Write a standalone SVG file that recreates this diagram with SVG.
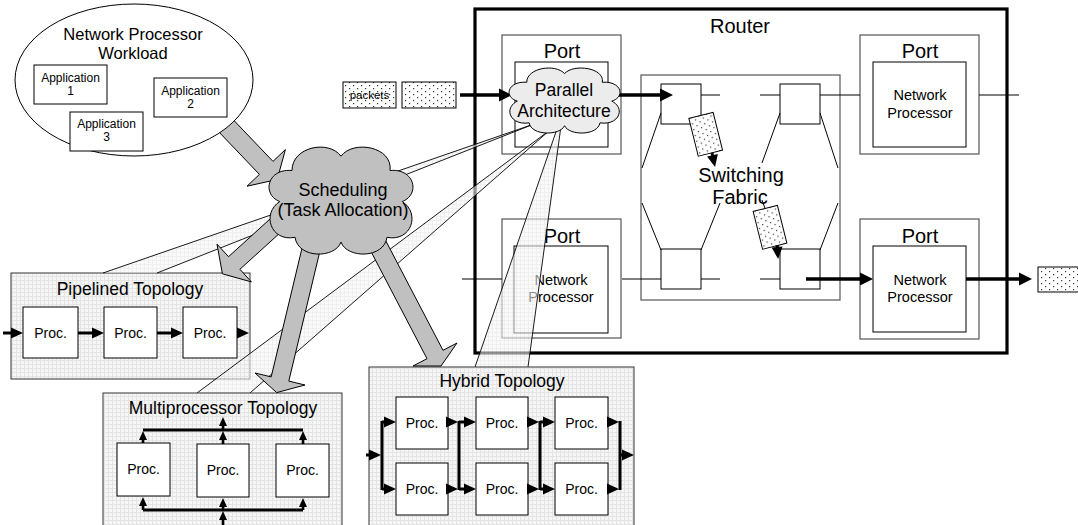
<svg xmlns="http://www.w3.org/2000/svg" width="1078" height="525" viewBox="0 0 1078 525">
<style>
.t{font-family:"Liberation Sans",Arial,sans-serif;fill:#000}
.box{fill:#fff;stroke:#000;stroke-width:1}
.obox{fill:#fff;stroke:#555;stroke-width:1.2}
.topo{fill:url(#hatch);stroke:#333;stroke-width:1}
.ln{stroke:#000;stroke-width:1;fill:none}
.thick{stroke:#000;stroke-width:3.5;fill:none;marker-end:url(#ah)}
.mid{stroke:#000;stroke-width:3;fill:none;marker-end:url(#am)}
.sm{stroke:#000;stroke-width:2.6;fill:none;marker-end:url(#as)}
.bus{stroke:#000;stroke-width:3;fill:none}
.blk{fill:#c0c0c0;stroke:#000;stroke-width:1;stroke-linejoin:miter}
.co{fill:url(#hatch);opacity:0.6}
.col{stroke:#000;stroke-width:0.9;fill:none}
.pk{fill:url(#dots);stroke:#000;stroke-width:1}
</style>
<defs>
<pattern id="hatch" width="4" height="4" patternUnits="userSpaceOnUse"><rect width="4" height="4" fill="#f6f6f6"/><path d="M0 0.5H4M0.5 0V4" stroke="#e4e4e4" stroke-width="1"/></pattern>
<pattern id="dots" width="8" height="6" patternUnits="userSpaceOnUse"><rect width="8" height="6" fill="#fff"/><rect x="1" y="1" width="1.2" height="1.2" fill="#333"/><rect x="5" y="4" width="1.2" height="1.2" fill="#333"/></pattern>
<marker id="ah" markerUnits="userSpaceOnUse" markerWidth="13" markerHeight="13" refX="9" refY="6.5" orient="auto" overflow="visible"><path d="M0,0 L13,6.5 L0,13 Z"/></marker>
<marker id="am" markerUnits="userSpaceOnUse" markerWidth="12" markerHeight="11" refX="8" refY="5.5" orient="auto" overflow="visible"><path d="M0,0 L12,5.5 L0,11 Z"/></marker>
<marker id="as" markerUnits="userSpaceOnUse" markerWidth="9" markerHeight="8" refX="5" refY="4" orient="auto" overflow="visible"><path d="M0,0 L9,4 L0,8 Z"/></marker>
</defs>

<g id="router">
<rect x="475" y="9" width="532" height="344" fill="#fff" stroke="#000" stroke-width="3.2"/>
<text class="t" x="740" y="33" font-size="20" text-anchor="middle">Router</text>
</g>

<g id="port-in">
<rect class="obox" x="502" y="35" width="119" height="119"/>
<rect class="box" x="515" y="62" width="93" height="85"/>
<text class="t" x="562" y="58" font-size="20" text-anchor="middle">Port</text>
</g>

<g id="port-left-bottom">
<rect class="obox" x="502" y="219" width="119" height="119"/>
<rect class="box" x="514" y="246" width="94" height="87"/>
<text class="t" x="562" y="243" font-size="20" text-anchor="middle">Port</text>
<text class="t" x="561" y="285" font-size="14.5" text-anchor="middle">Network</text>
<text class="t" x="561" y="302" font-size="14.5" text-anchor="middle">Processor</text>
</g>

<g id="port-right-top">
<rect class="obox" x="860" y="35" width="119" height="119"/>
<rect class="box" x="873" y="62" width="93" height="85"/>
<text class="t" x="920" y="58" font-size="20" text-anchor="middle">Port</text>
<text class="t" x="920" y="100" font-size="14.5" text-anchor="middle">Network</text>
<text class="t" x="920" y="117.5" font-size="14.5" text-anchor="middle">Processor</text>
</g>

<g id="port-right-bottom">
<rect class="obox" x="860" y="219" width="119" height="120"/>
<rect class="box" x="873" y="246" width="93" height="86"/>
<text class="t" x="920" y="243" font-size="20" text-anchor="middle">Port</text>
<text class="t" x="920" y="285" font-size="14.5" text-anchor="middle">Network</text>
<text class="t" x="920" y="302" font-size="14.5" text-anchor="middle">Processor</text>
</g>

<g id="switching-fabric">
<rect class="obox" x="641" y="75" width="199" height="225"/>
<rect class="box" x="661" y="84" width="40" height="40"/>
<rect class="box" x="780" y="84" width="40" height="40"/>
<rect class="box" x="661" y="249" width="40" height="40"/>
<rect class="box" x="780" y="249" width="40" height="40"/>
<path class="ln" d="M661,113 L642,168 M642,203 L661,250 M701,250 L720,203 M780,113 L762,163 M820,113 L838,168 M838,203 L820,250 M762,200 L780,250"/>
<text class="t" x="741" y="182" font-size="20" text-anchor="middle">Switching</text>
<text class="t" x="740" y="204" font-size="20" text-anchor="middle">Fabric</text>
</g>

<g id="fabric-packet-1"><rect class="pk" x="-12.5" y="-19.5" width="25" height="39" transform="translate(705.7,134.3) rotate(-14)"/></g>
<g id="fabric-packet-2"><rect class="pk" x="-12.5" y="-19.5" width="25" height="39" transform="translate(770,227.3) rotate(-14)"/></g>

<g id="packet-in-1">
<rect class="pk" x="343" y="82" width="53" height="26"/>
<text class="t" x="369.5" y="99" font-size="11.5" text-anchor="middle">packets</text>
</g>
<g id="packet-in-2"><rect class="pk" x="402" y="82" width="54" height="26"/></g>
<g id="packet-out"><rect class="pk" x="1038" y="267" width="53" height="25"/></g>

<g id="pipelined-topology">
<rect class="topo" x="11" y="273" width="239" height="106"/>
<text class="t" x="130" y="295" font-size="17.5" text-anchor="middle">Pipelined Topology</text>
<rect class="box" x="23" y="307" width="55" height="51"/>
<rect class="box" x="104" y="307" width="53" height="51"/>
<rect class="box" x="183" y="307" width="54" height="51"/>
<text class="t" x="50.5" y="338" font-size="14" text-anchor="middle">Proc.</text>
<text class="t" x="130.5" y="338" font-size="14" text-anchor="middle">Proc.</text>
<text class="t" x="210" y="338" font-size="14" text-anchor="middle">Proc.</text>
</g>

<g id="callouts">
<polygon class="co" points="103,273 157,273 534,124"/>
<path class="col" d="M103,273 L534,124 M157,273 L534,124"/>
<polygon class="co" points="197,393 250,393 550,130"/>
<path class="col" d="M197,393 L550,130 M250,393 L550,130"/>
<polygon class="co" points="475,367 528,367 561,126 558,126"/>
<path class="col" d="M475,367 L558,126 M528,367 L561,126"/>
</g>

<g id="multiprocessor-topology">
<rect class="topo" x="103" y="393" width="239" height="140"/>
<text class="t" x="223" y="414" font-size="17.5" text-anchor="middle">Multiprocessor Topology</text>
<rect class="box" x="117" y="443" width="53" height="53"/>
<rect class="box" x="197" y="444" width="52" height="53"/>
<rect class="box" x="276" y="444" width="53" height="53"/>
<text class="t" x="143.5" y="474" font-size="14" text-anchor="middle">Proc.</text>
<text class="t" x="223" y="475" font-size="14" text-anchor="middle">Proc.</text>
<text class="t" x="302.5" y="475" font-size="14" text-anchor="middle">Proc.</text>
</g>

<g id="hybrid-topology">
<rect class="topo" x="369" y="367" width="265" height="166"/>
<text class="t" x="502" y="387" font-size="17.5" text-anchor="middle">Hybrid Topology</text>
<rect class="box" x="396" y="397" width="52" height="52"/>
<rect class="box" x="476" y="397" width="52" height="52"/>
<rect class="box" x="555" y="397" width="53" height="52"/>
<rect class="box" x="396" y="463" width="52" height="52"/>
<rect class="box" x="476" y="463" width="52" height="52"/>
<rect class="box" x="555" y="463" width="53" height="52"/>
<text class="t" x="422" y="428" font-size="14" text-anchor="middle">Proc.</text>
<text class="t" x="502" y="428" font-size="14" text-anchor="middle">Proc.</text>
<text class="t" x="581.5" y="428" font-size="14" text-anchor="middle">Proc.</text>
<text class="t" x="422" y="494" font-size="14" text-anchor="middle">Proc.</text>
<text class="t" x="502" y="494" font-size="14" text-anchor="middle">Proc.</text>
<text class="t" x="581.5" y="494" font-size="14" text-anchor="middle">Proc.</text>
</g>

<g id="connectors">
<path class="ln" d="M462,279 H502 M622,279 H661 M701,279 H720 M760,279 H780 M701,95 H720 M760,95 H780 M820,95 H860 M979,95 H1019"/>
<line class="thick" x1="460" y1="95" x2="508" y2="95"/>
<line class="thick" x1="615" y1="95" x2="669" y2="95"/>
<line class="thick" x1="806" y1="279" x2="869" y2="279"/>
<line class="thick" x1="966" y1="279" x2="1028" y2="279"/>
<line class="mid" stroke-width="2.5" x1="712" y1="153" x2="714.2" y2="163.1"/>
<line class="mid" stroke-width="2.5" x1="777" y1="245.5" x2="777.8" y2="255"/>

<polygon class="blk" points="231.6,118 273,161.4 285.4,149.6 277.2,179.5 247,186.2 259.4,174.4 218,131"/>
<polygon class="blk" points="284.3,229 239.9,269.3 251.4,281.9 222.4,273.8 217,244.1 228.5,256.7 272.9,216.4"/>
<polygon class="blk" points="321.4,244.9 288.8,381.1 305,385 276.7,392.6 255,373 271.2,376.9 303.8,240.7"/>
<polygon class="blk" points="382.8,235.1 443,350.3 457,343 441,366 413,366 427,358.7 366.8,243.5"/>

<line class="mid" x1="3" y1="333" x2="19" y2="333"/>
<line class="mid" x1="78" y1="333" x2="100" y2="333"/>
<line class="mid" x1="157" y1="333" x2="179" y2="333"/>
<line class="mid" x1="237" y1="333" x2="245" y2="333"/>

<path class="bus" d="M143,430 H303 M143,510 H303"/>
<line class="sm" x1="143" y1="443" x2="143" y2="435"/>
<line class="sm" x1="223" y1="444" x2="223" y2="435"/>
<line class="sm" x1="303" y1="444" x2="303" y2="435"/>
<line class="sm" x1="223" y1="430" x2="223" y2="421"/>
<line class="sm" x1="143" y1="510" x2="143" y2="501"/>
<line class="sm" x1="223" y1="510" x2="223" y2="502"/>
<line class="sm" x1="303" y1="510" x2="303" y2="502"/>
<line class="sm" x1="223" y1="525" x2="223" y2="515"/>

<path class="bus" d="M382,421 V490 M459,421 V490 M540,421 V490 M620,421 V490"/>
<line class="mid" x1="366" y1="455" x2="377" y2="455"/>
<line class="mid" x1="382" y1="422" x2="392" y2="422"/>
<line class="mid" x1="382" y1="489" x2="392" y2="489"/>
<line class="mid" x1="448" y1="422" x2="454" y2="422"/>
<line class="mid" x1="448" y1="489" x2="454" y2="489"/>
<line class="mid" x1="459" y1="422" x2="472" y2="422"/>
<line class="mid" x1="459" y1="489" x2="472" y2="489"/>
<line class="mid" x1="528" y1="422" x2="535" y2="422"/>
<line class="mid" x1="528" y1="489" x2="535" y2="489"/>
<line class="mid" x1="540" y1="422" x2="551" y2="422"/>
<line class="mid" x1="540" y1="489" x2="551" y2="489"/>
<line class="mid" x1="608" y1="422" x2="615" y2="422"/>
<line class="mid" x1="608" y1="489" x2="615" y2="489"/>
<line class="mid" x1="620" y1="455" x2="630" y2="455"/>
</g>

<g id="parallel-architecture">
<path d="M10,52 C-2,46 2,24 18,26 C18,6 42,0 50,14 C58,0 84,6 82,26 C98,24 102,46 90,52 C102,62 96,86 80,82 C78,100 54,100 50,86 C46,100 22,100 20,82 C4,86 -2,62 10,52 Z" transform="translate(505.5,63.4) scale(1.181,0.725)" fill="#ececec" stroke="#000" stroke-width="1" vector-effect="non-scaling-stroke"/>
<text class="t" x="564" y="96" font-size="17.5" text-anchor="middle">Parallel</text>
<text class="t" x="564" y="117" font-size="17.5" text-anchor="middle">Architecture</text>
</g>

<g id="scheduling">
<path d="M10,52 C-2,46 2,24 18,26 C18,6 42,0 50,14 C58,0 84,6 82,26 C98,24 102,46 90,52 C102,62 96,86 80,82 C78,100 54,100 50,86 C46,100 22,100 20,82 C4,86 -2,62 10,52 Z" transform="translate(264.4,139.5) scale(1.532,1.193)" fill="#c0c0c0" stroke="#000" stroke-width="1" vector-effect="non-scaling-stroke"/>
<text class="t" x="343" y="196" font-size="18" text-anchor="middle">Scheduling</text>
<text class="t" x="343" y="216" font-size="18" text-anchor="middle">(Task Allocation)</text>
</g>

<g id="workload">
<ellipse cx="134" cy="80" rx="119" ry="76" fill="#fff" stroke="#000" stroke-width="1"/>
<text class="t" x="133" y="39.5" font-size="16.5" text-anchor="middle">Network Processor</text>
<text class="t" x="133" y="58.5" font-size="16.5" text-anchor="middle">Workload</text>
</g>
<g id="application-1">
<rect class="box" x="34" y="65" width="73" height="39"/>
<text class="t" x="70.5" y="82" font-size="12" text-anchor="middle">Application</text>
<text class="t" x="70.5" y="95" font-size="12" text-anchor="middle">1</text>
</g>
<g id="application-2">
<rect class="box" x="154" y="78" width="73" height="39"/>
<text class="t" x="190.5" y="95" font-size="12" text-anchor="middle">Application</text>
<text class="t" x="190.5" y="108" font-size="12" text-anchor="middle">2</text>
</g>
<g id="application-3">
<rect class="box" x="70" y="112" width="73" height="39"/>
<text class="t" x="106.5" y="128" font-size="12" text-anchor="middle">Application</text>
<text class="t" x="106.5" y="141" font-size="12" text-anchor="middle">3</text>
</g>
</svg>
